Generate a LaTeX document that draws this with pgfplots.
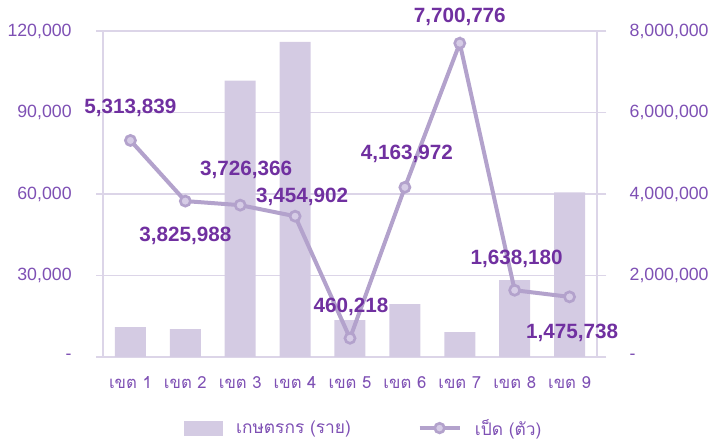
\documentclass[border=0pt]{standalone}
\usepackage{fontspec}
\setmainfont{Liberation Sans}
\newfontfamily\thaifont[Script=Thai]{Loma}
\usepackage{pgfplots}
\usepackage{pgfplotstable}
\pgfplotsset{compat=1.18}
\definecolor{barc}{HTML}{D4CBE3}
\definecolor{linec}{HTML}{B3A2CC}
\definecolor{markf}{HTML}{D6CCE6}
\definecolor{gridc}{HTML}{DCD5E8}
\definecolor{tickc}{HTML}{7E50B4}
\definecolor{labc}{HTML}{7030A0}

\pgfplotstableread{
x y
0 11000
1 10300
2 101700
3 116000
4 13600
5 19500
6 9200
7 28300
8 60600
}\bars

\pgfplotstableread{
x y lab dx dy
0 5313839 5,313,839 0 24.75
1 3825988 3,825,988 0 -26.25
2 3726366 3,726,366 4.5 26.25
3 3454902 3,454,902 5.25 14.5
4 460218 460,218 0.75 23.75
5 4163972 4,163,972 1.5 25.25
6 7700776 7,700,776 0 19.5
7 1638180 1,638,180 1.5 23.75
8 1475738 1,475,738 1.9 -27
}\ducks

\begin{document}
\begin{tikzpicture}
\useasboundingbox (-77.25pt,-63.75pt) rectangle (457.5pt,267.75pt);
\begin{axis}[
  at={(0,0)}, anchor=south west,
  scale only axis, width=370.5pt, height=244.5pt,
  xmin=-0.5, xmax=8.5, ymin=0, ymax=120000,
  axis x line*=bottom, axis y line*=left,
  axis line style={gridc, line width=1pt},
  xtick={0,...,8},
  xticklabels={เขต 1,เขต 2,เขต 3,เขต 4,เขต 5,เขต 6,เขต 7,เขต 8,เขต 9},
  xticklabel style={font=\fontsize{12.5}{15}\thaifont, text=tickc, yshift=-6pt},
  x tick style={draw=none},
  scaled y ticks=false,
  ytick={0,30000,60000,90000,120000},
  yticklabels={-,{30,000},{60,000},{90,000},{120,000}},
  yticklabel style={font=\fontsize{13.3}{15}\selectfont, text=tickc, xshift=-15pt},
  y tick style={gridc, line width=1pt},
  tick align=outside, major tick length=5pt,
  ymajorgrids, grid style={gridc, line width=1pt},
  /pgf/number format/assume math mode=true,
]
\addplot[ybar, bar width=23.25pt, fill=barc, draw=none] table[x=x,y=y]{\bars};
\end{axis}
\begin{axis}[
  at={(0,0)}, anchor=south west,
  scale only axis, width=370.5pt, height=244.5pt,
  xmin=-0.5, xmax=8.5, ymin=0, ymax=8000000,
  axis x line=none, axis y line*=right,
  axis line style={gridc, line width=1pt},
  scaled y ticks=false,
  ytick={0,2000000,4000000,6000000,8000000},
  yticklabels={-,{2,000,000},{4,000,000},{6,000,000},{8,000,000}},
  yticklabel style={font=\fontsize{13.3}{15}\selectfont, text=tickc, xshift=14pt},
  y tick style={gridc, line width=1pt},
  tick align=outside, major tick length=7pt,
  clip=false,
  legend style={at={(0.164,-0.218)}, anchor=west, draw=none, fill=none,
    inner sep=0pt, legend columns=2,
    font=\fontsize{13}{15}\thaifont, text=tickc,
    /tikz/every odd column/.append style={column sep=8pt},
    /tikz/every even column/.append style={column sep=48pt}},
  legend cell align=left,
]
\addlegendimage{legend image code/.code={\fill[barc] (0pt,-5.25pt) rectangle (28.5pt,5.25pt);}}
\addlegendentry{เกษตรกร (ราย)}
\addlegendimage{legend image code/.code={\draw[line width=3pt, linec] (0pt,0pt) -- (30pt,0pt); \draw[line width=2pt, draw=linec, fill=markf] (15pt,0pt) circle (3.6pt);}}
\addlegendentry{เป็ด (ตัว)}
\addplot[forget plot, color=linec, line width=3pt, mark=*, mark size=3.8pt,
  mark options={line width=2pt, draw=linec, fill=markf},
  visualization depends on={\thisrow{dx} \as \dx},
  visualization depends on={\thisrow{dy} \as \dy},
  point meta=explicit symbolic,
  nodes near coords,
  nodes near coords style={anchor=center, xshift=\dx pt, yshift=\dy pt,
    font=\fontsize{15.5}{18}\selectfont\bfseries, text=labc},
] table[x=x, y=y, meta=lab]{\ducks};
\end{axis}
\end{tikzpicture}
\end{document}
